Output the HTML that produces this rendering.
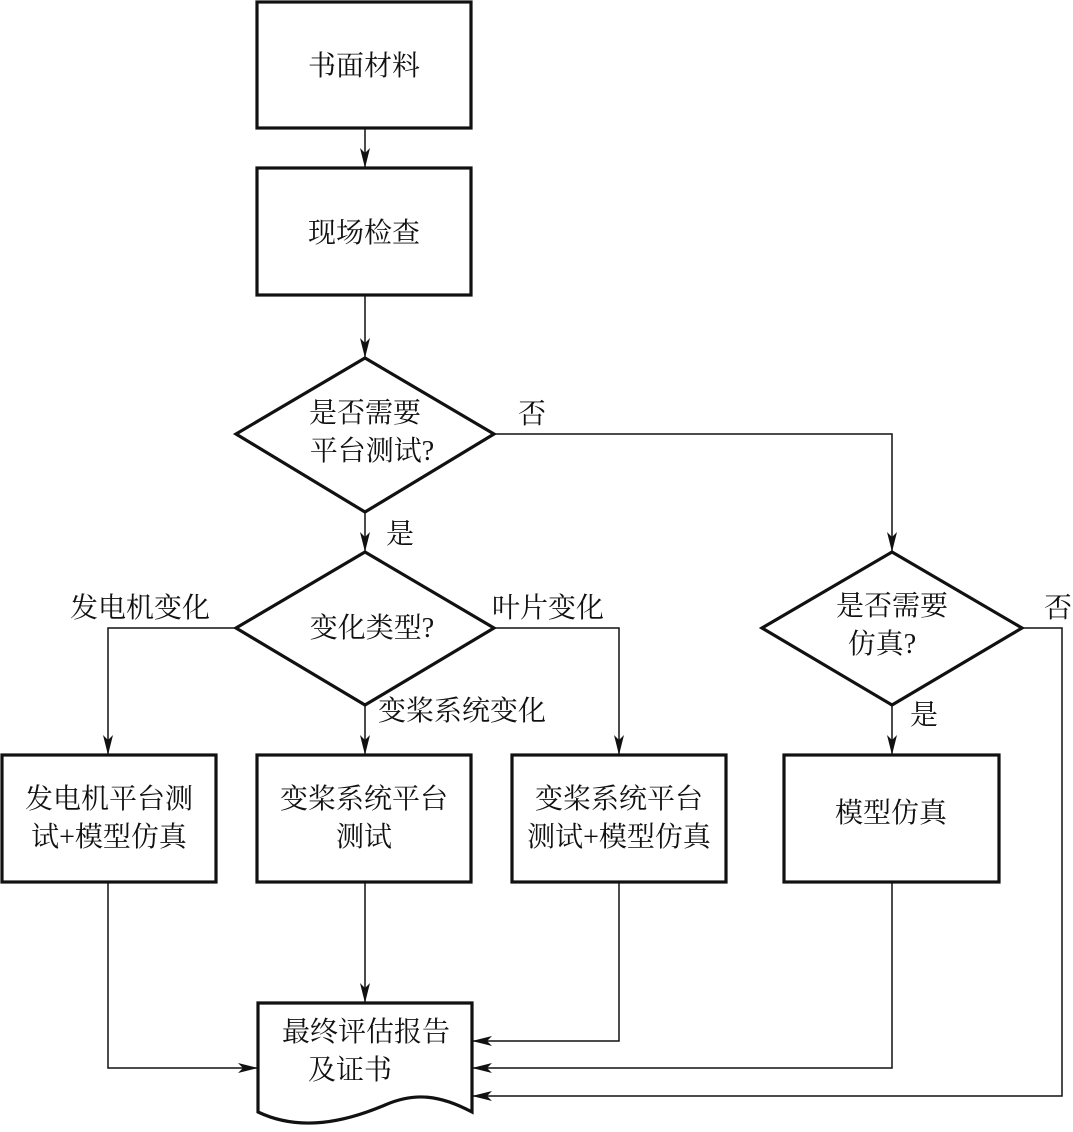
<!DOCTYPE html>
<html><head><meta charset="utf-8"><style>
html,body{margin:0;padding:0;background:#fff}
svg{display:block}
text{font-family:"Liberation Serif","Noto Serif CJK SC","Noto Sans CJK SC",serif;font-size:28px;fill:#111}
.b{fill:none;stroke:#111;stroke-width:3.2}
.l{fill:none;stroke:#111;stroke-width:1.5}
</style></head><body>
<svg width="1073" height="1132" viewBox="0 0 1073 1132">
<defs>
<marker id="a" viewBox="0 0 20 10" refX="20" refY="5" markerWidth="20" markerHeight="10" markerUnits="userSpaceOnUse" orient="auto">
<path d="M0,0 L20,5 L0,10 L5,5 Z" fill="#111"/>
</marker>
</defs>
<!-- boxes -->
<rect class="b" x="257" y="2" width="214" height="126"/>
<rect class="b" x="257" y="168" width="214" height="127"/>
<rect class="b" x="2" y="755" width="214" height="127"/>
<rect class="b" x="257" y="755" width="214" height="127"/>
<rect class="b" x="512" y="755" width="214" height="127"/>
<rect class="b" x="784" y="755" width="215" height="127"/>
<polygon class="b" points="365,358 494,434 365,512 236,434"/>
<polygon class="b" points="365,552 494,628 365,705 236,628"/>
<polygon class="b" points="892,552 1022,628 892,705 762,628"/>
<path class="b" d="M258,1003 L472,1003 L472,1112 C440,1095 415,1092 385,1105 C345,1122 300,1132 258,1112 Z"/>
<!-- connectors -->
<line class="l" x1="365" y1="128" x2="365" y2="168" marker-end="url(#a)"/>
<line class="l" x1="365" y1="295" x2="365" y2="358" marker-end="url(#a)"/>
<line class="l" x1="365" y1="512" x2="365" y2="552" marker-end="url(#a)"/>
<polyline class="l" points="494,434 892,434 892,552" marker-end="url(#a)"/>
<polyline class="l" points="236,628 108,628 108,755" marker-end="url(#a)"/>
<polyline class="l" points="494,628 619,628 619,755" marker-end="url(#a)"/>
<line class="l" x1="365" y1="705" x2="365" y2="755" marker-end="url(#a)"/>
<line class="l" x1="892" y1="705" x2="892" y2="755" marker-end="url(#a)"/>
<line class="l" x1="365" y1="882" x2="365" y2="1003" marker-end="url(#a)"/>
<polyline class="l" points="108,882 108,1068 258,1068" marker-end="url(#a)"/>
<polyline class="l" points="619,882 619,1041 472,1041" marker-end="url(#a)"/>
<polyline class="l" points="892,882 892,1068 472,1068" marker-end="url(#a)"/>
<polyline class="l" points="1022,628 1062,628 1062,1096 472,1096" marker-end="url(#a)"/>
<!-- text -->
<g text-anchor="middle">
<text x="364" y="75">书面材料</text>
<text x="364" y="242">现场检查</text>
<text x="365" y="422">是否需要</text>
<text x="372" y="460">平台测试?</text>
<text x="372" y="637">变化类型?</text>
<text x="892" y="615">是否需要</text>
<text x="882" y="653">仿真?</text>
<text x="109" y="808">发电机平台测</text>
<text x="109" y="846">试+模型仿真</text>
<text x="364" y="808">变桨系统平台</text>
<text x="364" y="846">测试</text>
<text x="619" y="808">变桨系统平台</text>
<text x="619" y="846">测试+模型仿真</text>
<text x="891" y="822">模型仿真</text>
<text x="366" y="1041">最终评估报告</text>
<text x="350" y="1079">及证书</text>
</g>
<text x="518" y="423">否</text>
<text x="386" y="543">是</text>
<text x="70" y="617">发电机变化</text>
<text x="492" y="617">叶片变化</text>
<text x="378" y="720">变桨系统变化</text>
<text x="1044" y="617">否</text>
<text x="910" y="724">是</text>
</svg>
</body></html>
